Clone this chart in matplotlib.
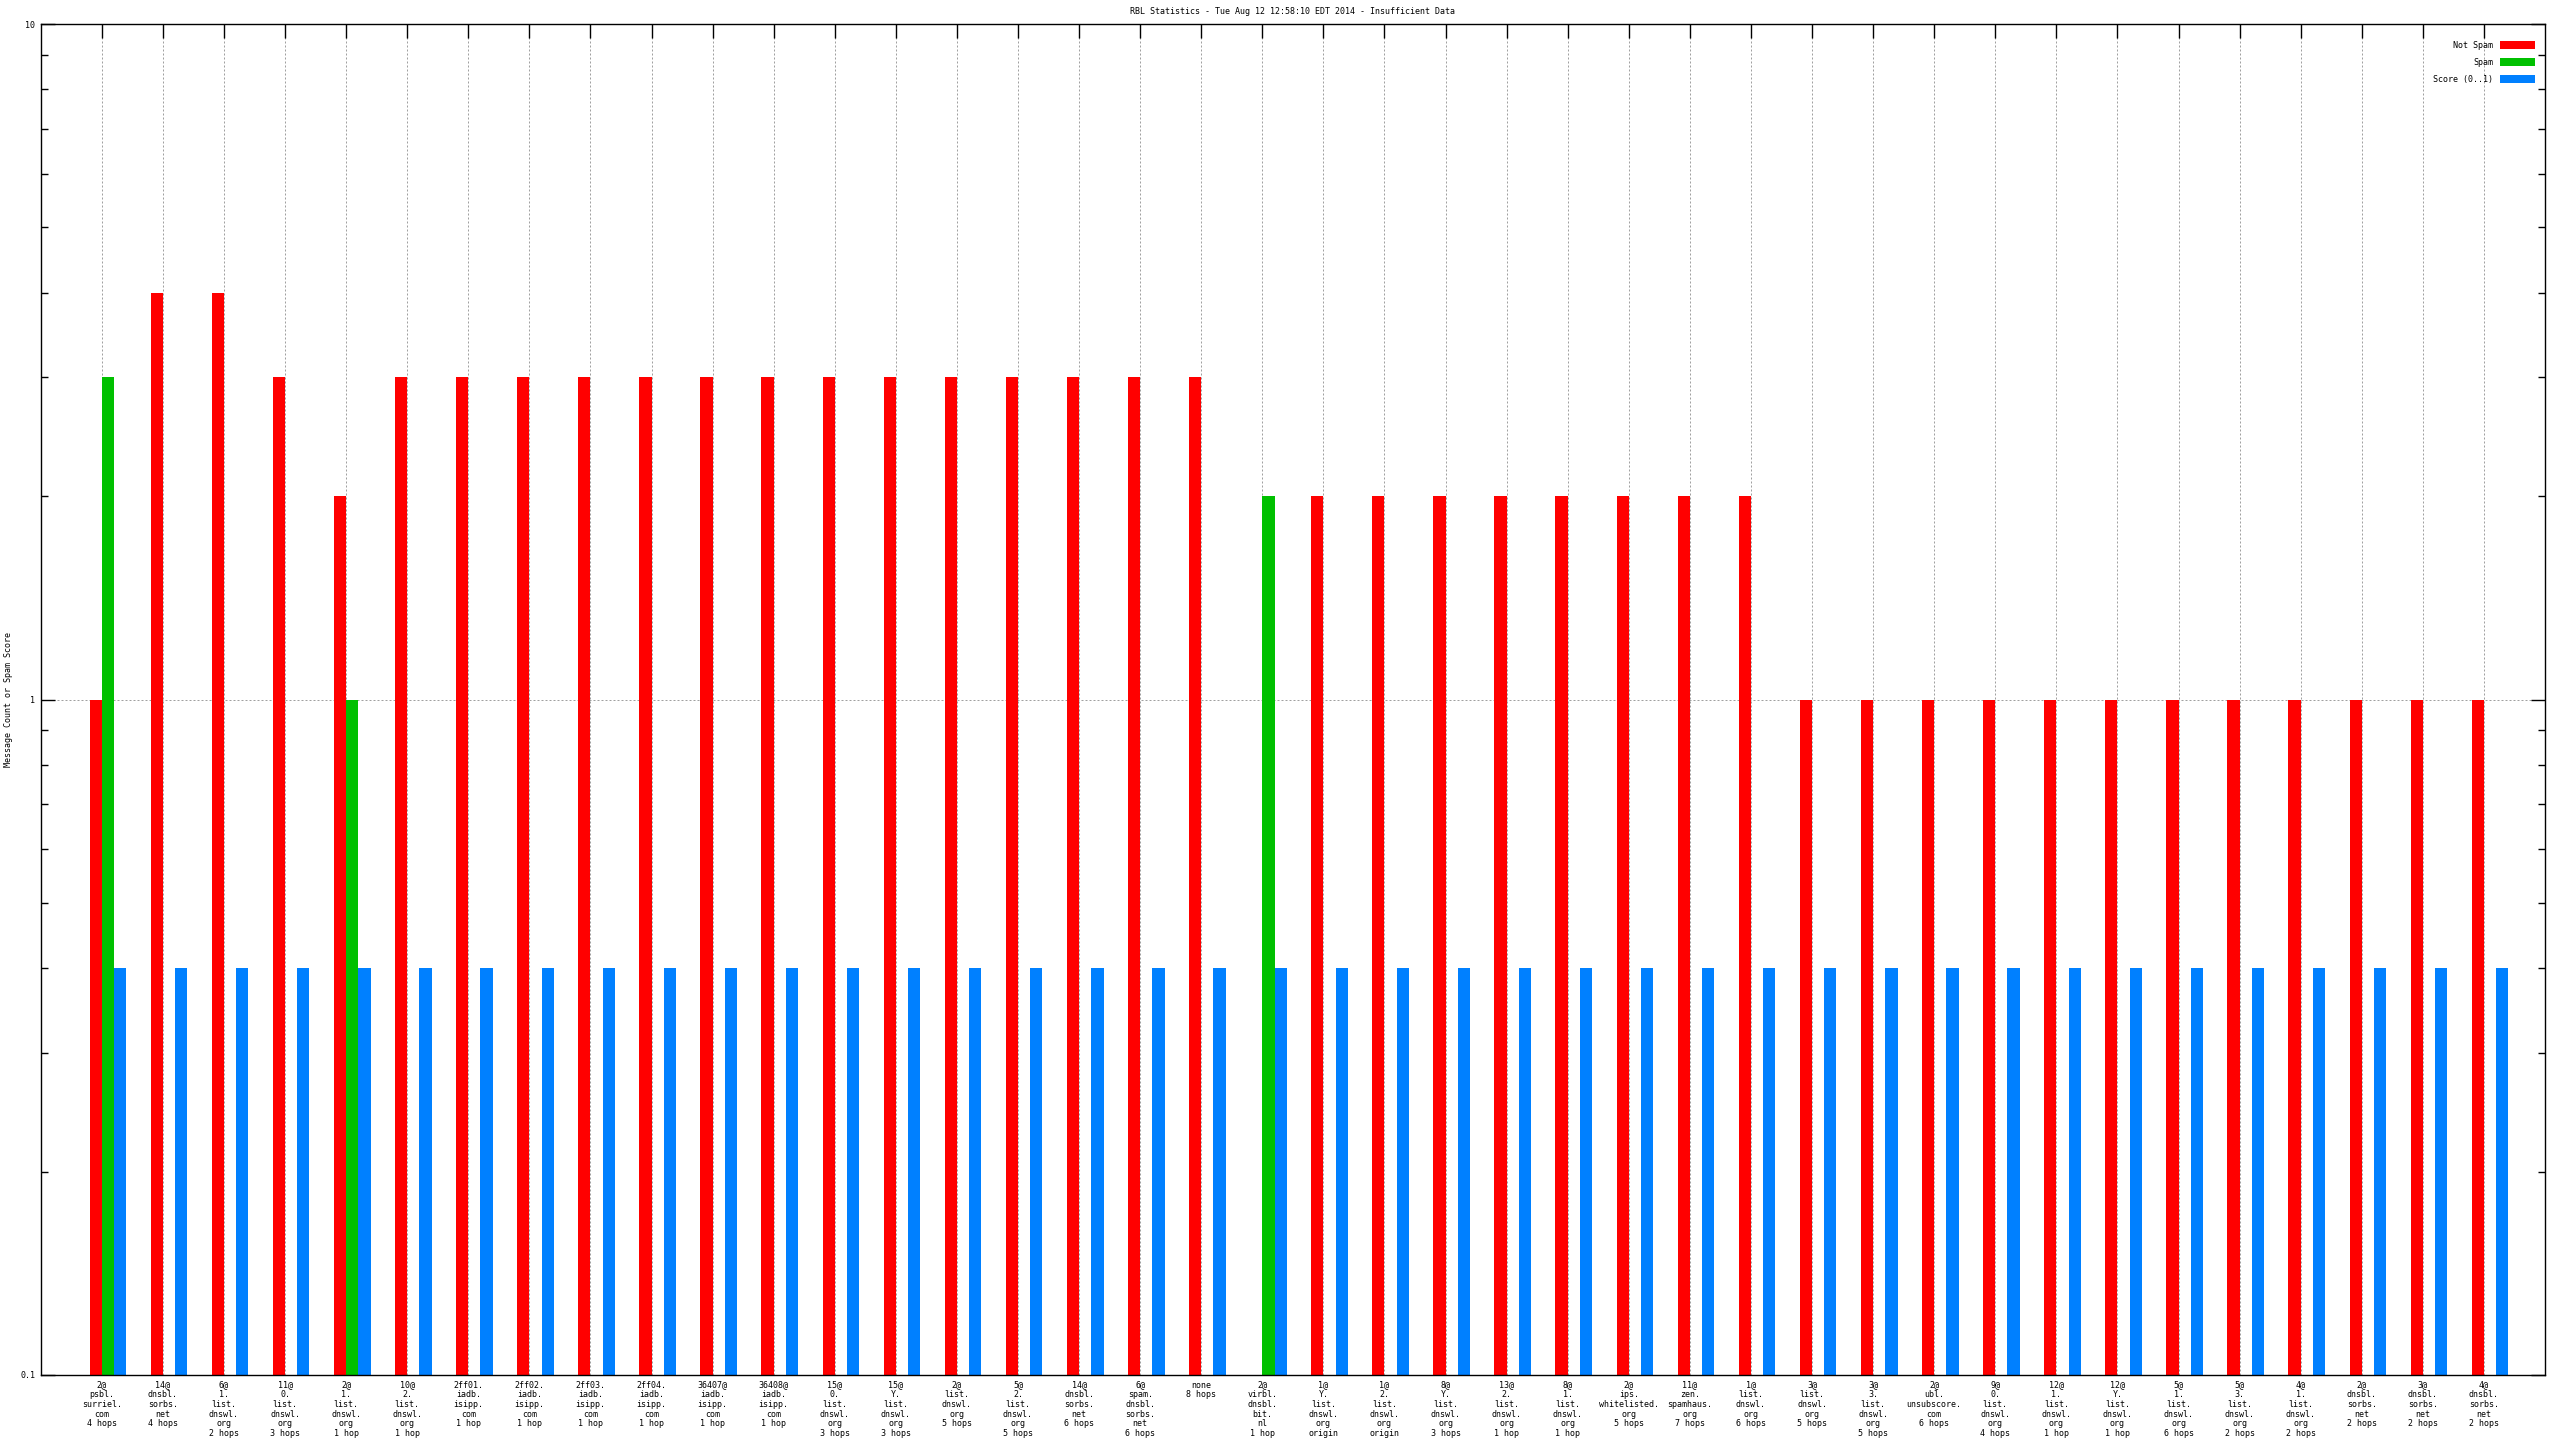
import matplotlib
matplotlib.use("Agg")
import matplotlib.pyplot as plt
import numpy as np
from matplotlib.ticker import FixedLocator, NullFormatter

categories = [
    "2@\npsbl.\nsurriel.\ncom\n4 hops",
    "14@\ndnsbl.\nsorbs.\nnet\n4 hops",
    "6@\n1.\nlist.\ndnswl.\norg\n2 hops",
    "11@\n0.\nlist.\ndnswl.\norg\n3 hops",
    "2@\n1.\nlist.\ndnswl.\norg\n1 hop",
    "10@\n2.\nlist.\ndnswl.\norg\n1 hop",
    "2ff01.\niadb.\nisipp.\ncom\n1 hop",
    "2ff02.\niadb.\nisipp.\ncom\n1 hop",
    "2ff03.\niadb.\nisipp.\ncom\n1 hop",
    "2ff04.\niadb.\nisipp.\ncom\n1 hop",
    "36407@\niadb.\nisipp.\ncom\n1 hop",
    "36408@\niadb.\nisipp.\ncom\n1 hop",
    "15@\n0.\nlist.\ndnswl.\norg\n3 hops",
    "15@\nY.\nlist.\ndnswl.\norg\n3 hops",
    "2@\nlist.\ndnswl.\norg\n5 hops",
    "5@\n2.\nlist.\ndnswl.\norg\n5 hops",
    "14@\ndnsbl.\nsorbs.\nnet\n6 hops",
    "6@\nspam.\ndnsbl.\nsorbs.\nnet\n6 hops",
    "none\n8 hops",
    "2@\nvirbl.\ndnsbl.\nbit.\nnl\n1 hop",
    "1@\nY.\nlist.\ndnswl.\norg\norigin",
    "1@\n2.\nlist.\ndnswl.\norg\norigin",
    "8@\nY.\nlist.\ndnswl.\norg\n3 hops",
    "13@\n2.\nlist.\ndnswl.\norg\n1 hop",
    "8@\n1.\nlist.\ndnswl.\norg\n1 hop",
    "2@\nips.\nwhitelisted.\norg\n5 hops",
    "11@\nzen.\nspamhaus.\norg\n7 hops",
    "1@\nlist.\ndnswl.\norg\n6 hops",
    "3@\nlist.\ndnswl.\norg\n5 hops",
    "3@\n3.\nlist.\ndnswl.\norg\n5 hops",
    "2@\nubl.\nunsubscore.\ncom\n6 hops",
    "9@\n0.\nlist.\ndnswl.\norg\n4 hops",
    "12@\n1.\nlist.\ndnswl.\norg\n1 hop",
    "12@\nY.\nlist.\ndnswl.\norg\n1 hop",
    "5@\n1.\nlist.\ndnswl.\norg\n6 hops",
    "5@\n3.\nlist.\ndnswl.\norg\n2 hops",
    "4@\n1.\nlist.\ndnswl.\norg\n2 hops",
    "2@\ndnsbl.\nsorbs.\nnet\n2 hops",
    "3@\ndnsbl.\nsorbs.\nnet\n2 hops",
    "4@\ndnsbl.\nsorbs.\nnet\n2 hops",
]

not_spam = [1, 4, 4, 3, 2, 3, 3, 3, 3, 3, 3, 3, 3, 3, 3, 3, 3, 3, 3, 0,
            2, 2, 2, 2, 2, 2, 2, 2, 1, 1, 1, 1, 1, 1, 1, 1, 1, 1, 1, 1]
spam = [3, 0, 0, 0, 1, 0, 0, 0, 0, 0, 0, 0, 0, 0, 0, 0, 0, 0, 0, 2,
        0, 0, 0, 0, 0, 0, 0, 0, 0, 0, 0, 0, 0, 0, 0, 0, 0, 0, 0, 0]
score = [0.4] * 40

series_names = ["Not Spam", "Spam", "Score (0..1)"]
series_colors = ["#ff0000", "#00c000", "#0080ff"]
title = "RBL Statistics - Tue Aug 12 12:58:10 EDT 2014 - Insufficient Data"
ylabel = "Message Count or Spam Score"

FONT = "DejaVu Sans Mono"
FS = 6
plt.rcParams["font.family"] = [FONT, "DejaVu Sans"]

W, H = 2560, 1440
fig = plt.figure(figsize=(W / 100, H / 100), dpi=100)
left, right, top, bottom = 40.7, 2545, 24, 1375
ax = fig.add_axes([left / W, 1 - bottom / H, (right - left) / W, (bottom - top) / H])

x = np.arange(len(categories))
bw = 0.2
for vals, off, name, col in zip([not_spam, spam, score], [-bw, 0, bw], series_names, series_colors):
    ax.bar(x + off, vals, width=bw, align="edge", color=col, label=name, linewidth=0)

ax.set_yscale("log")
ax.set_ylim(0.1, 10)
ax.set_xlim(-1, len(categories))
ax.set_axisbelow(True)

ax.set_xticks(x)
ax.set_xticklabels(categories, fontsize=FS, linespacing=1.1, va="top", ha="center")
ax.yaxis.set_major_locator(FixedLocator([0.1, 1, 10]))
ax.set_yticklabels(["0.1", "1", "10"], fontsize=FS)
minors = [m * d for d in (0.1, 1) for m in range(2, 10)]
ax.yaxis.set_minor_locator(FixedLocator(minors))
ax.yaxis.set_minor_formatter(NullFormatter())

ax.tick_params(axis="both", which="major", direction="in", length=10, width=1.0,
               top=True, right=True, color="black")
ax.tick_params(axis="x", which="major", bottom=False, labelbottom=True, pad=4)
ax.tick_params(axis="y", which="minor", direction="in", length=5, width=1.0, right=True)
ax.tick_params(axis="y", which="major", pad=4)

ax.grid(True, which="major", axis="both", color="#a0a0a0", linestyle=(0, (2, 2)), linewidth=0.72)
for s in ax.spines.values():
    s.set_linewidth(1.0)
    s.set_color("black")

fig.text((left + right) / 2 / W, 1 - 11 / H, title, ha="center", va="center", fontsize=FS)
fig.text(9 / W, 1 - (top + bottom) / 2 / H, ylabel, rotation=90, ha="center", va="center", fontsize=FS)

fs_px = FS * 100 / 72
leg = ax.legend(loc="upper right", bbox_to_anchor=(2535 / W, 1 - 41 / H), bbox_transform=fig.transFigure,
                frameon=False, fontsize=FS, markerfirst=False, handlelength=35 / fs_px,
                handleheight=9 / fs_px, labelspacing=0.95, handletextpad=7 / fs_px,
                borderpad=0, borderaxespad=0)

fig.savefig("out.png", dpi=100)
